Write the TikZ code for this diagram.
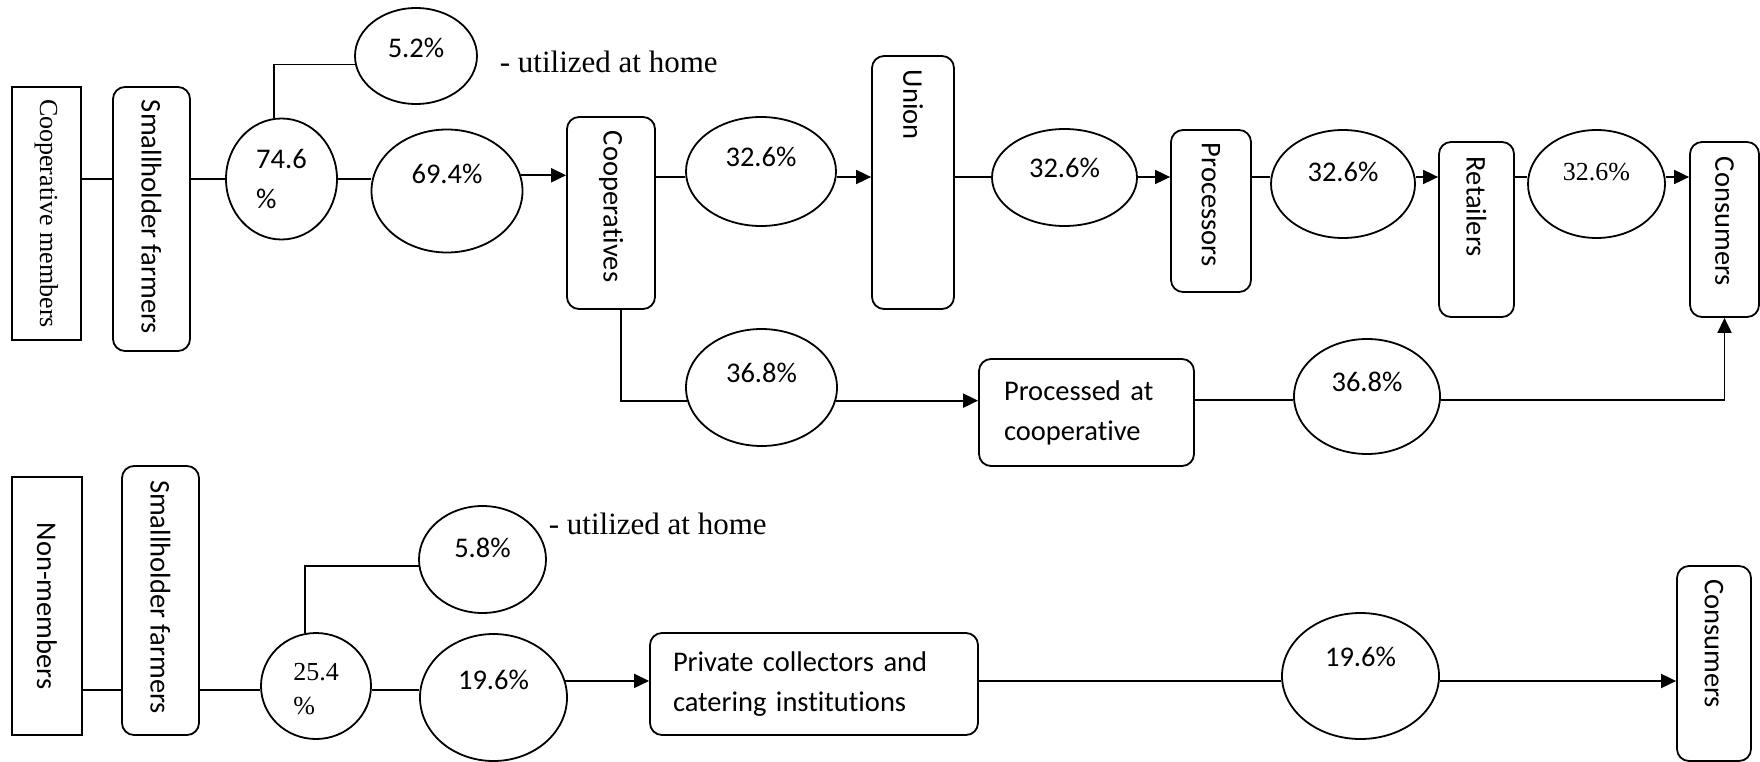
\documentclass[tikz,border=0pt]{standalone}
\usepackage{graphicx}
\usepackage{fontspec}
\setmainfont{Liberation Serif}
\newfontfamily\carlito[Ligatures=NoCommon]{Carlito}
\usetikzlibrary{shapes.geometric,arrows.meta}
\newcommand{\sanstext}{\carlito\fontsize{28.5}{40}\selectfont}
\newcommand{\seriftext}{\fontsize{26}{34}\selectfont}
\newcommand{\downtext}[2]{\rotatebox{-90}{\makebox[#1][l]{#2}}}

\begin{document}
\begin{tikzpicture}[x=1pt, y=-1pt, line width=1.8pt,
    box/.style={draw, inner sep=0pt},
    rbox/.style={draw, rounded corners=12pt, inner sep=0pt},
    oval/.style 2 args={draw, ellipse, inner sep=0pt, minimum width=#1, minimum height=#2},
    pct/.style={font=\sanstext, inner sep=0pt, align=left},
    pctserif/.style={font=\seriftext, inner sep=0pt, align=left},
    home/.style={anchor=west, inner sep=0pt, font=\fontsize{31}{36}\selectfont},
    arr/.style={-{Triangle[length=15pt,width=14pt]}}]
    \useasboundingbox (0,0) rectangle (1760,762);

    % Rows that the flow lines run along
    \coordinate (top) at (0,177);
    \coordinate (mid) at (0,400);
    \coordinate (base) at (0,690);
    \coordinate (low) at (0,681);

    % Cooperative members - upper chain
    \node[box, minimum width=69pt, minimum height=253pt, font=\seriftext] (cm1) at (46.5,213.5) {\rotatebox{-90}{Cooperative members}};
    \node[rbox, minimum width=77pt, minimum height=264pt, font=\sanstext] (sf1) at (151.5,219) {\downtext{238pt}{Smallholder farmers}};
    \node[oval={111pt}{121pt}, label={[pct]center:74.6\\\%}] (e746) at (281.5,179) {};
    \node[oval={122pt}{96pt}, label={[pct, yshift=8pt]center:5.2\%}] (e52) at (416,56) {};
    \node[home] (home1) at (499,62) {- utilized at home};
    \node[oval={151pt}{123pt}, label={[pct, yshift=17pt]center:69.4\%}] (e694) at (447,191) {};
    \node[rbox, minimum width=88pt, minimum height=192pt, font=\sanstext] (coop) at (611,213) {\downtext{164pt}{Cooperatives}};
    \node[oval={150pt}{109pt}, label={[pct, yshift=14.5pt]center:32.6\%}] (e326a) at (761,171.5) {};
    \node[rbox, minimum width=82pt, minimum height=253pt, font=\sanstext] (union) at (913,182.5) {\downtext{225pt}{Union}};
    \node[oval={145pt}{97pt}, label={[pct, yshift=9.5pt]center:32.6\%}] (e326b) at (1064.5,177.5) {};
    \node[rbox, minimum width=80pt, minimum height=162pt, font=\sanstext] (proc1) at (1211,211) {\downtext{136pt}{Processors}};
    \node[oval={144pt}{108pt}, label={[pct, yshift=12pt]center:32.6\%}] (e326c) at (1343,184) {};
    \node[rbox, minimum width=75pt, minimum height=175pt, font=\sanstext] (ret) at (1476.5,229.5) {\downtext{145pt}{Retailers}};
    \node[oval={137pt}{108pt}, label={[pctserif, yshift=12pt]center:32.6\%}] (e326d) at (1596.5,184) {};
    \node[rbox, minimum width=69pt, minimum height=175pt, font=\sanstext] (cons1) at (1724.5,229.5) {\downtext{145pt}{Consumers}};

    % Branch processed at the cooperative
    \node[oval={151pt}{117pt}, label={[pct, yshift=14.5pt]center:36.8\%}] (e368a) at (761.5,387.5) {};
    \node[rbox, minimum width=215pt, minimum height=107pt, inner xsep=25pt, text width=165pt, align=left, font=\sanstext] (proc2) at (1086.5,412.5) {Processed at\\cooperative};
    \node[oval={146pt}{115pt}, label={[pct, yshift=14.5pt]center:36.8\%}] (e368b) at (1367,396.5) {};

    % Non-members - lower chain
    \node[box, minimum width=70pt, minimum height=258pt, font=\sanstext] (nm) at (47,606) {\rotatebox{-90}{Non-members}};
    \node[rbox, minimum width=77pt, minimum height=269pt, font=\sanstext] (sf2) at (160.5,600.5) {\downtext{241pt}{Smallholder farmers}};
    \node[oval={110pt}{106pt}, label={[pctserif, yshift=-3pt]center:25.4\\\%}] (e254) at (316,686) {};
    \node[oval={127pt}{107pt}, label={[pct, yshift=11.5pt]center:5.8\%}] (e58) at (482.5,559.5) {};
    \node[home] (home2) at (548,523.5) {- utilized at home};
    \node[oval={147pt}{127pt}, label={[pct, yshift=17.5pt]center:19.6\%}] (e196a) at (493.5,697.5) {};
    \node[rbox, minimum width=328pt, minimum height=102pt, inner xsep=23pt, text width=282pt, align=left, font=\sanstext] (priv) at (814,684) {Private collectors and\\catering institutions};
    \node[oval={157pt}{126pt}, label={[pct, yshift=19pt]center:19.6\%}] (e196b) at (1360.5,676) {};
    \node[rbox, minimum width=74pt, minimum height=195pt, font=\sanstext] (cons2) at (1714,663.5) {\downtext{169pt}{Consumers}};

    % Flow lines - upper chain
    \draw (cm1.east |- e746) -- (sf1.west |- e746);
    \draw (sf1.east |- e746) -- (e746.west);
    \draw (e746.97) |- (e52.188);
    \draw (e746.east) -- (e746.east -| e694.west);
    \draw[arr] (e694.12) -- (e694.12 -| coop.west);
    \draw (coop.east |- top) -- (e326a.west |- top);
    \draw[arr] (e326a.east |- top) -- (union.west |- top);
    \draw (union.east |- top) -- (e326b.west |- top);
    \draw[arr] (e326b.east |- top) -- (proc1.west |- top);
    \draw (proc1.east |- top) -- (e326c.west |- top);
    \draw[arr] (e326c.east |- top) -- (ret.west |- top);
    \draw (ret.east |- top) -- (e326d.west |- top);
    \draw[arr] (e326d.east |- top) -- (cons1.west |- top);

    % Flow lines - cooperative processing
    \draw ([xshift=10pt]coop.south) |- (e368a.190);
    \draw[arr] (e368a.350) -- (e368a.350 -| proc2.west);
    \draw (proc2.east |- mid) -- (e368b.west |- mid);
    \draw[arr] (e368b.east |- mid) -| (cons1.south);

    % Flow lines - lower chain
    \draw (nm.east |- base) -- (sf2.west |- base);
    \draw (sf2.east |- base) -- (e254.west |- base);
    \draw (e254.east |- base) -- (e196a.west |- base);
    \draw (e254.102) |- (e58.186);
    \draw[arr] (e196a.13) -- (e196a.13 -| priv.west);
    \draw (priv.east |- low) -- (e196b.west |- low);
    \draw[arr] (e196b.east |- low) -- (cons2.west |- low);
\end{tikzpicture}
\end{document}
